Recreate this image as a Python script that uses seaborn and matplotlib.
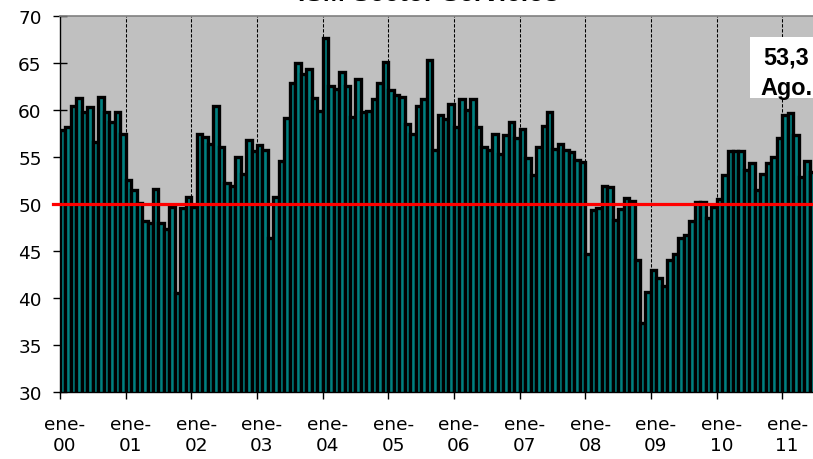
import matplotlib
matplotlib.use("Agg")
import matplotlib.pyplot as plt
from matplotlib.patches import Rectangle
import pandas as pd
import seaborn as sns

# ISM services index, monthly values Jan 2000 - Aug 2011
ism_2000 = [57.8, 58.2, 60.4, 61.2, 59.8, 60.3, 56.6, 61.3, 59.8, 58.7, 59.8, 57.4]
ism_2001 = [52.5, 51.5, 50.1, 48.2, 48.0, 51.6, 48.0, 47.3, 49.6, 40.5, 49.5, 50.7]
ism_2002 = [49.6, 57.4, 57.1, 56.4, 60.4, 56.0, 52.2, 51.9, 55.0, 53.2, 56.8, 55.6]
ism_2003 = [56.2, 55.7, 46.3, 50.7, 54.5, 59.1, 62.8, 65.0, 63.8, 64.3, 61.2, 59.9]
ism_2004 = [67.6, 62.5, 62.2, 64.0, 62.5, 59.2, 63.3, 59.8, 59.9, 61.1, 62.8, 65.1]
ism_2005 = [62.1, 61.6, 61.3, 58.5, 57.4, 60.4, 61.1, 65.3, 55.7, 59.4, 59.0, 60.6]
ism_2006 = [58.2, 61.1, 60.0, 61.1, 58.2, 56.0, 55.7, 57.4, 55.3, 57.3, 58.7, 57.0]
ism_2007 = [57.9, 54.9, 53.1, 56.0, 58.3, 59.8, 55.8, 56.4, 55.7, 55.5, 54.6, 54.4]
ism_2008 = [44.6, 49.3, 49.5, 51.9, 51.8, 48.3, 49.4, 50.6, 50.3, 44.0, 37.3, 40.6]
ism_2009 = [43.0, 42.1, 41.2, 44.0, 44.6, 46.3, 46.7, 48.2, 50.2, 50.2, 48.5, 49.6]
ism_2010 = [50.5, 53.1, 55.6, 55.6, 55.6, 53.6, 54.3, 51.5, 53.2, 54.3, 55.0, 57.0]
ism_2011 = [59.4, 59.7, 57.3, 52.8, 54.5, 53.4, 52.7, 53.3]

year_labels = ["ene-\n00", "ene-\n01", "ene-\n02", "ene-\n03", "ene-\n04", "ene-\n05",
               "ene-\n06", "ene-\n07", "ene-\n08", "ene-\n09", "ene-\n10", "ene-\n11"]
threshold = 50
last_month_name = "Ago."
chart_title = "ISM Sector Servicios"

values = (ism_2000 + ism_2001 + ism_2002 + ism_2003 + ism_2004 + ism_2005 +
          ism_2006 + ism_2007 + ism_2008 + ism_2009 + ism_2010 + ism_2011)
months = pd.date_range("2000-01-01", periods=len(values), freq="MS").strftime("%Y-%m")
df = pd.DataFrame({"mes": months, "indice": values})

W, H = 813, 460
TEAL = "#008080"
BG = "#C0C0C0"

fig = plt.figure(figsize=(W / 100, H / 100), dpi=100)
fig.patch.set_facecolor("white")

px_left, px_top, px_bottom = 60, 16.7, 392.7
px_month = 5.4717
ax = fig.add_axes([px_left / W, 1 - px_bottom / H,
                   px_month * len(values) / W, (px_bottom - px_top) / H])
ax.set_facecolor(BG)

sns.barplot(data=df, x="mes", y="indice", color=TEAL, saturation=1,
            width=1.0, edgecolor="black", linewidth=2.4, errorbar=None,
            ax=ax, zorder=2)

ax.set_xlim(-0.5, len(values) - 0.5)
ax.set_ylim(30, 70)
ax.set_yticks(range(30, 71, 5))
ax.set_xlabel("")
ax.set_ylabel("")

# year boundaries: tick marks + dashed guide lines
starts = [12 * k - 0.5 for k in range(len(year_labels))]
ax.set_xticks(starts)
ax.set_xticklabels([""] * len(starts))
ax.set_xticks([s + 0.88 for s in starts], minor=True)
ax.set_xticklabels(year_labels, minor=True)
for s in starts[1:]:
    ax.axvline(s, color="black", lw=0.75, dashes=(3.2, 1.6), zorder=1)

ax.tick_params(axis="x", which="major", direction="out", length=5, width=1,
               color="black")
ax.tick_params(axis="x", which="minor", length=0, pad=17, labelsize=13.3,
               labelcolor="black")
ax.tick_params(axis="y", direction="inout", length=9.4, width=1, pad=8.5,
               labelsize=13.3, labelcolor="black")

for side in ("left", "bottom"):
    ax.spines[side].set_color("black")
    ax.spines[side].set_linewidth(1.0)
ax.spines["top"].set_color("#808080")
ax.spines["top"].set_linewidth(1.2)
ax.spines["right"].set_visible(False)

# reference level at 50
ax.axhline(threshold, xmin=-0.0095, xmax=1, color="red", lw=2.3,
           clip_on=False, zorder=3)

# latest reading call-out
box = Rectangle((750 / W, 1 - 99.3 / H), 75 / W, 61 / H, transform=fig.transFigure,
                facecolor="white", edgecolor="none", zorder=5)
fig.patches.append(box)
last_text = f"{values[-1]:.1f}".replace(".", ",")
fig.text(786 / W, 1 - 65 / H, last_text, ha="center", va="baseline",
         fontsize=16.8, fontweight="bold", family="Liberation Sans", zorder=6)
fig.text(786 / W, 1 - 95.5 / H, last_month_name, ha="center", va="baseline",
         fontsize=16.8, fontweight="bold", family="Liberation Sans", zorder=6)

# chart title sits at the very top edge of the canvas
fig.text(428 / W, 1 - 0.8 / H, chart_title, ha="center", va="baseline",
         fontsize=19, fontweight="bold", family="Liberation Sans")

fig.savefig("out.png", dpi=100, facecolor="white")
